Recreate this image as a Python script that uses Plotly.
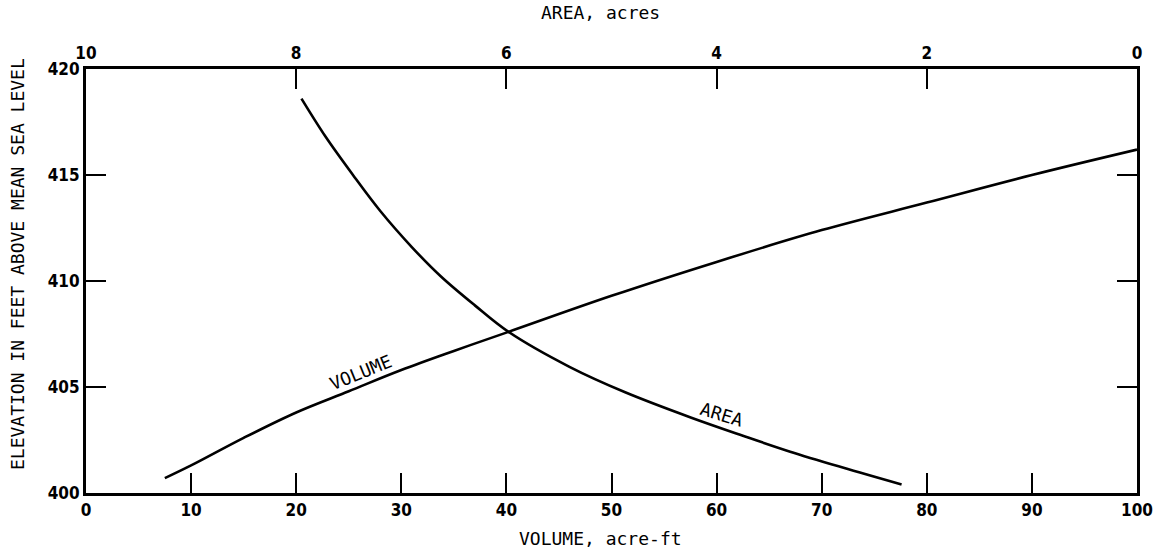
import plotly.graph_objects as go

# Reservoir storage curves: elevation vs. volume and elevation vs. surface area
volume_acre_ft = [7.5, 10, 15, 20, 25, 30, 35, 40.2, 50, 60, 70, 80, 90, 100]
volume_elev_ft = [400.7, 401.3, 402.6, 403.8, 404.8, 405.8, 406.7, 407.6,
                  409.3, 410.9, 412.4, 413.7, 415.0, 416.2]

area_acres = [7.95, 7.72, 7.46, 7.2, 6.9, 6.62, 6.3, 5.98, 5.4, 4.87, 4.24,
              3.75, 3.3, 2.8, 2.24]
area_elev_ft = [418.6, 416.8, 415.0, 413.3, 411.6, 410.2, 408.85, 407.6, 405.95,
                404.75, 403.55, 402.7, 401.95, 401.2, 400.4]

volume_ticks = [0, 10, 20, 30, 40, 50, 60, 70, 80, 90, 100]
area_ticks = [10, 8, 6, 4, 2, 0]
elev_ticks = [400, 405, 410, 415, 420]

TICK_FONT = dict(family="DejaVu Sans Condensed, DejaVu Sans, sans-serif",
                 size=17, color="black", weight="bold")
LETTER_FONT = dict(family="DejaVu Sans Mono, monospace", size=18, color="black")
INK = "black"

fig = go.Figure()
fig.add_trace(go.Scatter(
    x=volume_acre_ft, y=volume_elev_ft, mode="lines",
    line=dict(color=INK, width=2.6, shape="spline"),
    xaxis="x", yaxis="y", showlegend=False, hoverinfo="skip",
))
fig.add_trace(go.Scatter(
    x=area_acres, y=area_elev_ft, mode="lines",
    line=dict(color=INK, width=2.6, shape="spline"),
    xaxis="x2", yaxis="y", showlegend=False, hoverinfo="skip",
))

axis_common = dict(
    showline=True, linecolor=INK, linewidth=3,
    ticks="inside", ticklen=20, tickwidth=2, tickcolor=INK,
    showgrid=False, zeroline=False, tickfont=TICK_FONT,
)

fig.update_layout(
    width=1165, height=555,
    margin=dict(l=86, r=13, t=69, b=62),
    paper_bgcolor="white", plot_bgcolor="white",
    xaxis=dict(range=[0, 100], tickvals=volume_ticks, mirror=True, **axis_common),
    xaxis2=dict(range=[10, 0], tickvals=area_ticks, overlaying="x", side="top",
                **axis_common),
    yaxis=dict(range=[400, 420], tickvals=elev_ticks, mirror="ticks", **axis_common),
    annotations=[
        # axis titles
        dict(text="VOLUME, acre-ft", x=0.49, y=0, xref="paper", yref="paper",
             yanchor="middle", yshift=-45, showarrow=False, font=LETTER_FONT),
        dict(text="AREA, acres", x=0.49, y=1, xref="paper", yref="paper",
             yanchor="middle", yshift=57, showarrow=False, font=LETTER_FONT),
        dict(text="ELEVATION IN FEET ABOVE MEAN SEA LEVEL", x=0, y=0.54,
             xref="paper", yref="paper", xanchor="center", xshift=-69,
             textangle=-90, showarrow=False, font=LETTER_FONT),
        # curve labels
        dict(text="VOLUME", x=26.1, y=405.7, xref="x", yref="y", showarrow=False,
             textangle=-22, font=LETTER_FONT),
        dict(text="AREA", x=3.95, y=403.7, xref="x2", yref="y", showarrow=False,
             textangle=17, font=LETTER_FONT),
    ],
)

fig.write_html("out.html")
